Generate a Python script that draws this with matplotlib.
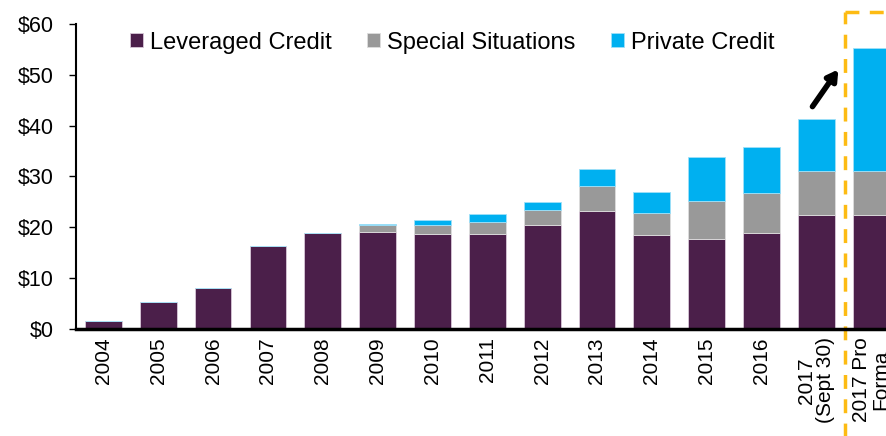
import numpy as np
import matplotlib.pyplot as plt
import matplotlib.transforms as mtransforms

plt.rcParams["font.family"] = ["Liberation Sans", "DejaVu Sans"]

years = ["2004", "2005", "2006", "2007", "2008", "2009", "2010", "2011",
         "2012", "2013", "2014", "2015", "2016", "2017\n(Sept 30)", "2017 Pro\nForma"]
leveraged = [1.6, 5.3, 8.0, 16.3, 18.8, 19.1, 18.6, 18.6, 20.5, 23.2, 18.5, 17.8, 18.8, 22.4, 22.4]
special = [0, 0, 0, 0, 0, 1.3, 1.9, 2.5, 3.0, 5.0, 4.3, 7.4, 8.0, 8.7, 8.7]
private = [0, 0, 0, 0, 0, 0.3, 0.9, 1.5, 1.5, 3.3, 4.2, 8.6, 9.0, 10.3, 24.1]

c_lev = "#4b1f4a"
c_spec = "#999999"
c_priv = "#00b0f0"

fig = plt.figure(figsize=(8.86, 4.36), dpi=100)
ax = fig.add_axes([0.0858, 0.2454, 0.9142, 0.6996])

x = np.arange(len(years))
lev = np.array(leveraged)
spec = np.array(special)
priv = np.array(private)
w = 0.67
ax.bar(x, lev, w, color=c_lev, edgecolor="#d8c8d8", linewidth=0.6, label="Leveraged Credit")
ax.bar(x, spec, w, bottom=lev, color=c_spec, edgecolor="#dddddd", linewidth=0.6, label="Special Situations")
ax.bar(x, priv, w, bottom=lev + spec, color=c_priv, edgecolor="#a0e0f8", linewidth=0.6, label="Private Credit")

ax.set_xlim(-0.5, 14.27)
ax.set_ylim(0, 60)
ax.set_yticks(range(0, 61, 10))
ax.set_yticklabels(["$%d" % v for v in range(0, 61, 10)], fontsize=15.5)
ax.set_xticks(x)
ax.set_xticklabels(years, rotation=90, fontsize=15, ha="center", va="top",
                   multialignment="center", linespacing=1.0)
ax.tick_params(axis="x", length=0, pad=6)
ax.tick_params(axis="y", length=5, width=1, direction="out", pad=11)
for s in ["top", "right"]:
    ax.spines[s].set_visible(False)
ax.spines["left"].set_linewidth(1.5)
ax.spines["bottom"].set_linewidth(2.5)

leg = ax.legend(loc="upper left", bbox_to_anchor=(0.04, 1.045), ncol=3, frameon=False,
                fontsize=17, handlelength=0.55, handleheight=0.55, handletextpad=0.3,
                columnspacing=1.5)

# dashed highlight box around the pro forma bar
tr = mtransforms.blended_transform_factory(ax.transData, ax.transAxes)
ax.plot([13.53, 13.53], [-0.6, 1.04], transform=tr, color="#fdbb13", lw=2.5,
        ls=(0, (4, 3)), clip_on=False)
ax.plot([13.53, 15.0], [1.04, 1.04], transform=tr, color="#fdbb13", lw=2.5,
        ls=(0, (4, 3)), clip_on=False)

ax.annotate("", xy=(13.43, 51.5), xytext=(12.9, 43.3),
            arrowprops=dict(arrowstyle="-|>,head_length=0.6,head_width=0.35", color="black", lw=4),
            annotation_clip=False)

fig.savefig("out.png", dpi=100)
